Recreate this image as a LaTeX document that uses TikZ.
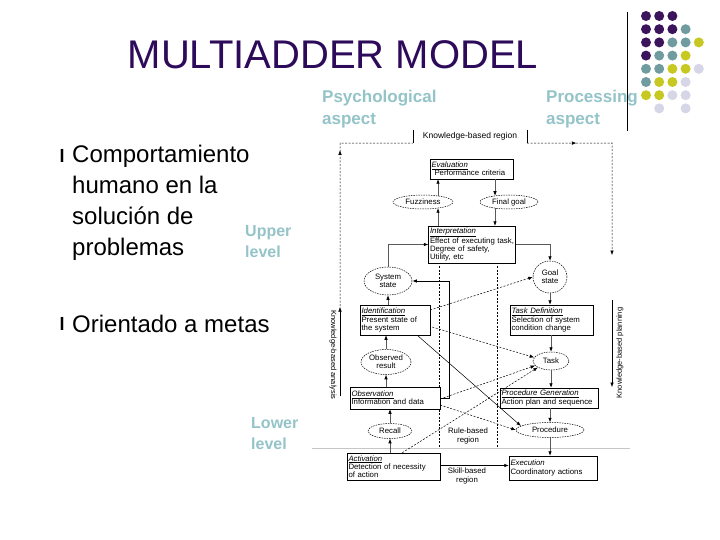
\documentclass[tikz,border=0pt]{standalone}
\usepackage{fontspec}
\setmainfont{Liberation Sans}
\usetikzlibrary{arrows.meta,shapes.geometric,calc,decorations.markings}
\definecolor{titlepurple}{RGB}{45,10,90}
\definecolor{lbl}{RGB}{148,196,200}
\definecolor{dpurple}{RGB}{60,20,92}
\definecolor{dteal}{RGB}{112,156,160}
\definecolor{dyellow}{RGB}{200,200,35}
\definecolor{dlav}{RGB}{214,214,230}
\newcommand{\dfont}{\fontsize{7.8}{8.2}\selectfont}
\begin{document}
\begin{tikzpicture}[x=1pt,y=-1pt,
  box/.style={draw, line width=0.5pt, fill=white, align=left, inner sep=1.5pt, font=\dfont},
  oval/.style={ellipse, draw, dash pattern=on 1.5pt off 1pt, line width=0.5pt, inner sep=0pt, align=center, font=\dfont, fill=white},
  arr/.style={draw=black!65, line width=0.6pt, -{Latex[length=4.5pt,width=3.5pt,color=black]}},
  dsh/.style={line width=0.5pt, dash pattern=on 2pt off 1.5pt},
  aspect/.style={text=lbl, font=\fontsize{17}{22}\selectfont\bfseries, align=left, inner sep=0pt},
  level/.style={text=lbl, font=\fontsize{16}{21}\selectfont\bfseries, align=left, inner sep=0pt},
  bullettext/.style={font=\fontsize{24}{31}\selectfont, align=left, inner sep=0pt},
  bul/.style={font=\fontsize{18}{18}\selectfont\bfseries, inner sep=0pt},
  midarrow/.style={postaction={decorate}, decoration={markings, mark=at position #1 with {\arrow{Latex[length=4.5pt,width=3.5pt]}}}}
]
\useasboundingbox[fill=white] (0,0) rectangle (720,540);

% title
\node[font=\fontsize{40}{40}\selectfont, text=titlepurple, inner sep=0pt] (title) at (333,55) {MULTIADDER MODEL};

% decorative dots and line
\draw[line width=1pt] (627,12) -- (627,131);
\foreach \c/\r/\col in {1/1/dpurple,2/1/dpurple,3/1/dpurple,
  1/2/dpurple,2/2/dpurple,3/2/dpurple,4/2/dteal,
  1/3/dpurple,2/3/dpurple,3/3/dteal,4/3/dteal,5/3/dyellow,
  1/4/dpurple,2/4/dteal,3/4/dteal,4/4/dyellow,
  1/5/dteal,2/5/dteal,3/5/dyellow,4/5/dyellow,5/5/dlav,
  1/6/dteal,2/6/dyellow,3/6/dyellow,4/6/dlav,
  1/7/dyellow,2/7/dyellow,3/7/dlav,4/7/dlav,
  2/8/dlav,4/8/dlav}
  \fill[\col] ({646+13.2*(\c-1)},{16+13.2*(\r-1)}) circle (5pt);

% aspect labels
\node[aspect, anchor=west] (psy) at (322,109) {Psychological\\aspect};
\node[aspect, anchor=west] (proc) at (546,109) {Processing\\aspect};

% bullets
\node[bul] (b1) at (62,156) {l};
\node[bullettext, anchor=west] (t1) at (72,203) {Comportamiento\\humano en la\\solución de\\problemas};
\node[bul] (b2) at (62,324) {l};
\node[bullettext, anchor=west] (t2) at (72,324) {Orientado a metas};
\node[level, anchor=west] (up) at (245,241.5) {Upper\\level};
\node[level, anchor=west] (low) at (251,433.5) {Lower\\level};

% ---------- diagram ----------
\draw[gray!45, line width=0.6pt] (312,448) -- (630,448);
\draw[dsh] (439,266) -- (439,447);
\draw[dsh] (497,266) -- (497,447);

\node[font=\fontsize{8.5}{9}\selectfont, minimum width=114, minimum height=13, inner sep=0pt] (kreg) at (470,136.5) {Knowledge-based region};
\draw[line width=0.5pt] (kreg.north west) -- (kreg.south west);
\draw[line width=0.5pt] (kreg.north east) -- (kreg.south east);
\draw[dsh, midarrow=0.66] (340,306) -- (340,143) -- (kreg.south west);
\draw[dsh, midarrow=0.25, -{Latex[length=4.5pt,width=3.5pt]}] (kreg.south east) -- (612,143) -- (612,255);
\draw[line width=0.5pt, -{Latex[length=4.5pt,width=3.5pt]}] (340,396) -- (340,307);
\draw[line width=0.5pt, -{Latex[length=4.5pt,width=3.5pt]}] (612,300) -- (612,387);
\node[font=\fontsize{7.5}{8}\selectfont, rotate=-90, inner sep=0pt] (kba) at (333,355) {Knowledge-based analysis};
\node[font=\fontsize{7.5}{8}\selectfont, rotate=90, inner sep=0pt] (kbp) at (620,353) {Knowledge-based planning};

\node[font=\dfont, align=center, inner sep=0pt] (rule) at (468,436) {Rule-based\\region};
\node[font=\dfont, align=center, inner sep=0pt] (skill) at (467,476) {Skill-based\\region};

% boxes
\node[box, minimum height=20, text width=80] (eval) at (471.5,169) {\underline{\textit{Evaluation}}\\\hspace*{3pt}Performance criteria};
\node[box, minimum height=35, text width=84] (interp) at (472,244.5) {\underline{\textit{Interpretation}}\\Effect of executing task,\\Degree of safety,\\Utility, etc};
\node[box, minimum height=30, text width=67] (ident) at (395,320) {\underline{\textit{Identification}}\\Present state of\\the system};
\node[box, minimum height=30, text width=80] (taskdef) at (551.5,320) {\underline{\textit{Task Definition}}\\Selection of system\\condition change};
\node[box, minimum height=22, text width=87] (observ) at (395,398) {\underline{\textit{Observation}}\\Information and data};
\node[box, minimum height=20, text width=95] (procgen) at (549,398) {\underline{\textit{Procedure Generation}}\\Action plan and sequence};
\node[box, minimum height=27, text width=90] (activ) at (393.5,466.5) {\underline{\textit{Activation}}\\Detection of necessity\\of action};
\node[box, minimum height=24, text width=85] (exec) at (553,468) {\textit{Execution}\\Coordinatory actions};

% ovals
\node[oval, minimum width=60, minimum height=14] (fuzz) at (423,202) {Fuzziness};
\node[oval, minimum width=58, minimum height=14] (fgoal) at (509,202) {Final goal};
\node[oval, minimum width=48, minimum height=28] (sys) at (388,281) {System\\state};
\node[oval, minimum width=34, minimum height=32] (gstate) at (550,277) {Goal\\state};
\node[oval, minimum width=50, minimum height=25] (obsres) at (386,362) {Observed\\result};
\node[oval, minimum width=36, minimum height=18] (task) at (551,361) {Task};
\node[oval, minimum width=44, minimum height=15] (recall) at (390,431) {Recall};
\node[oval, minimum width=68, minimum height=15] (procd) at (550,430) {Procedure};

% top loop
\coordinate (fx) at ($(fuzz.center)+(15,0)$);
\coordinate (gx) at ($(fgoal.center)+(-14,0)$);
\draw[arr] (fx |- interp.north) -- ($(fx |- fuzz.south)+(0,-1)$);
\draw[arr] ($(fx |- fuzz.north)+(0,1)$) -- (fx |- eval.south);
\draw[arr] (gx |- eval.south) -- ($(gx |- fgoal.north)+(0,1)$);
\draw[arr] ($(gx |- fgoal.south)+(0,-1)$) -- (gx |- interp.north);
\draw[arr] (sys.north) |- (interp.west);
\draw[arr] (interp.east) -| (gstate.north);

% right column
\draw[arr] (gstate.south) -- (gstate.south |- taskdef.north);
\draw[arr] (task.north |- taskdef.south) -- (task.north);
\draw[arr] (task.south) -- (task.south |- procgen.north);
\draw[arr] (procd.north |- procgen.south) -- (procd.north);
\draw[arr] (procd.south) -- (procd.south |- exec.north);

% left column
\draw[arr] (sys.south |- ident.north) -- (sys.south);
\draw[arr] (obsres.north) -- (obsres.north |- ident.south);
\draw[arr] (obsres.south |- observ.north) -- (obsres.south);
\draw[arr] (recall.north) -- (recall.north |- observ.south);
\draw[arr] (recall.south |- activ.north) -- (recall.south);
\draw[draw=black, line width=1pt, -{Latex[length=4.5pt,width=3.5pt]}] (observ.east) -- ++(9,0) |- (sys.east);

% diagonals
\draw[dsh, -{Latex[length=4.5pt,width=3.5pt]}] ($(ident.east)+(0,-10)$) -- (gstate.west);
\draw[dsh, -{Latex[length=4.5pt,width=3.5pt]}] ($(ident.east)+(2,7)$) -- (task.168);
\draw[line width=0.5pt, -{Latex[length=4.5pt,width=3.5pt]}] ($(ident.south east)+(-13,0)$) -- (procd.172);
\draw[dsh, -{Latex[length=4.5pt,width=3.5pt]}] ($(observ.east)+(0,1)$) -- (task.196);
\draw[dsh, -{Latex[length=4.5pt,width=3.5pt]}] ($(observ.east)+(0,7)$) -- (procd.west);
\draw[dsh, -{Latex[length=4.5pt,width=3.5pt]}] ($(activ.north east)+(-38,0)$) -- (task.206);
\draw[line width=0.6pt, -{Latex[length=4.5pt,width=3.5pt]}] ($(activ.east)+(0,-1)$) -- (exec.west |- 0,465.5);
\end{tikzpicture}
\end{document}
